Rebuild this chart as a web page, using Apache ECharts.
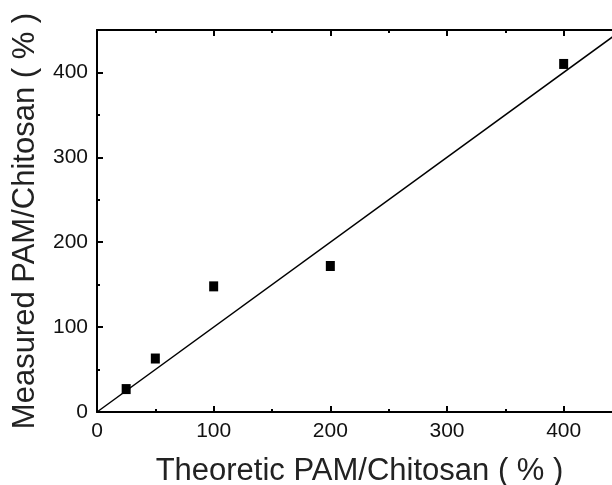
<!DOCTYPE html>
<html>
<head>
<meta charset="utf-8">
<script src="https://cdn.jsdelivr.net/npm/echarts@6/dist/echarts.min.js"></script>
<style>
html,body{margin:0;padding:0;background:#fff;}
#c{width:612px;height:485px;}
</style>
</head>
<body>
<div id="c"></div>
<script>
var theoretic = [25, 50, 100, 200, 400];
var measured = [27, 63, 148, 172, 410];
var lineX = [0, 450];
var lineY = [0, 450];
var xTitle = 'Theoretic PAM/Chitosan ( % )';
var yTitle = 'Measured PAM/Chitosan ( % )';

var pts = theoretic.map(function (t, i) { return [t, measured[i]]; });
var linePts = lineX.map(function (x, i) { return [x, lineY[i]]; });

var font = 'Liberation Sans, Arial, sans-serif';
var axisCommon = {
  type: 'value', min: 0, max: 450, interval: 100,
  axisLine: { show: true, onZero: false, lineStyle: { color: '#000', width: 2 } },
  axisTick: { show: true, inside: true, length: 6, lineStyle: { color: '#000', width: 2 } },
  minorTick: { show: true, splitNumber: 2, length: 3, lineStyle: { color: '#000', width: 2 } },
  splitLine: { show: false },
  minorSplitLine: { show: false }
};
function ax(extra) { return Object.assign({}, JSON.parse(JSON.stringify(axisCommon)), extra); }

var chart = echarts.init(document.getElementById('c'), null, { renderer: 'canvas' });
chart.setOption({
  animation: false,
  backgroundColor: '#fff',
  grid: { left: 97, top: 30, width: 525, height: 382, containLabel: false, outerBoundsMode: 'none' },
  xAxis: [
    ax({
      position: 'bottom',
      name: xTitle, nameLocation: 'middle', nameGap: 44,
      nameTextStyle: { fontFamily: font, fontSize: 31, color: '#222' },
      axisLabel: { show: true, margin: 9, fontFamily: font, fontSize: 21, color: '#111', showMaxLabel: false }
    }),
    ax({ position: 'top', axisLabel: { show: false } })
  ],
  yAxis: [
    ax({
      position: 'left',
      name: yTitle, nameLocation: 'middle', nameGap: 56,
      nameTextStyle: { fontFamily: font, fontSize: 31, color: '#222' },
      axisLabel: { show: true, margin: 9, fontFamily: font, fontSize: 21, color: '#111', showMaxLabel: false }
    }),
    ax({ position: 'right', axisLabel: { show: false } })
  ],
  series: [
    {
      type: 'line', data: linePts, showSymbol: false, symbol: 'none',
      lineStyle: { color: '#000', width: 1.5 }, clip: false, z: 2
    },
    {
      type: 'scatter', data: pts, symbol: 'rect', symbolSize: [9, 10],
      itemStyle: { color: '#000', opacity: 1 }, z: 3
    }
  ]
});
</script>
</body>
</html>
